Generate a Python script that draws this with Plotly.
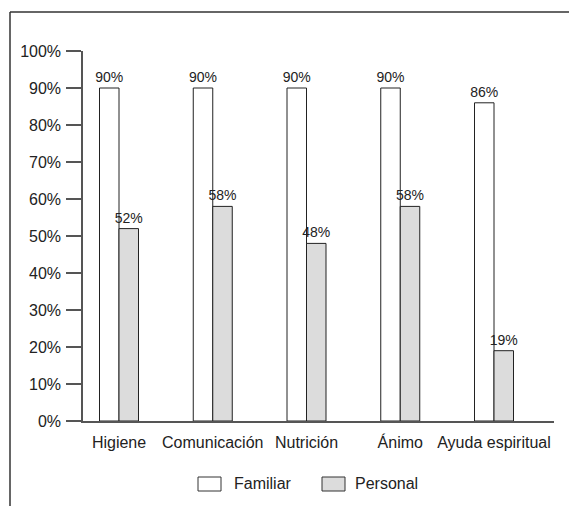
import plotly.graph_objects as go

categories = ["Higiene", "Comunicación", "Nutrición", "Ánimo", "Ayuda espiritual"]
familiar = [90, 90, 90, 90, 86]
personal = [52, 58, 48, 58, 19]
y_ticks = list(range(0, 101, 10))
y_tick_labels = [f"{v}%" for v in y_ticks]
series_names = ["Familiar", "Personal"]
series_fill = ["white", "#dcdcdc"]

FONT = "Liberation Sans, Arial, sans-serif"
TXT = "#222222"

W, H = 569, 506
L, R, T, B = 83, 15, 51, 85
pw, ph = W - L - R, H - T - B


def px(x):
    return (x - L) / pw


def py(y):
    return (H - B - y) / ph


fig = go.Figure()
for name, vals, fill in zip(series_names, [familiar, personal], series_fill):
    fig.add_bar(
        name=name, x=categories, y=vals,
        marker=dict(color=fill, line=dict(color="#222222", width=1)),
        text=[f"{v}%" for v in vals], textposition="outside",
        constraintext="none",
        textfont=dict(size=14, color=TXT, family=FONT), cliponaxis=False,
    )

# frame (top and left edges visible)
shapes = [
    dict(type="line", xref="paper", yref="paper", x0=px(10), x1=px(600), y0=py(12), y1=py(12),
         line=dict(color="#333333", width=1.5)),
    dict(type="line", xref="paper", yref="paper", x0=px(10), x1=px(10), y0=py(12), y1=py(520),
         line=dict(color="#333333", width=1.5)),
]
annotations = []
# manual legend
legend_box_x = [198, 322]
legend_text_x = [232, 353]
for name, fill, bx, tx in zip(series_names, series_fill, legend_box_x, legend_text_x):
    shapes.append(dict(type="rect", xref="paper", yref="paper",
                       x0=px(bx), x1=px(bx + 23), y0=py(491), y1=py(477),
                       fillcolor=fill, line=dict(color="#333333", width=1)))
    annotations.append(dict(xref="paper", yref="paper", x=px(tx), y=py(483),
                            xanchor="left", yanchor="middle", showarrow=False,
                            text=name, font=dict(size=16, color=TXT, family=FONT)))

fig.update_layout(
    width=W, height=H,
    margin=dict(l=L, r=R, t=T, b=B, autoexpand=False),
    paper_bgcolor="white", plot_bgcolor="white",
    barmode="group", bargap=0.584, bargroupgap=0,
    font=dict(family=FONT, color=TXT, size=16),
    showlegend=False,
    shapes=shapes, annotations=annotations,
    xaxis=dict(range=[-0.384, 4.64], showline=True, linecolor="#555555", linewidth=1.5,
               ticks="", showgrid=False, tickfont=dict(size=16, color=TXT),
               ticklabelstandoff=6),
    yaxis=dict(range=[0, 100], tickvals=y_ticks, ticktext=y_tick_labels,
               showline=True, linecolor="#555555", linewidth=1.5,
               ticks="outside", ticklen=15, tickwidth=1.5, tickcolor="#555555",
               showgrid=False, zeroline=False, tickfont=dict(size=16, color=TXT),
               ticklabelstandoff=2),
)

fig.write_html("out.html", config={"displayModeBar": False},
               post_script="document.body.style.margin='0';")
